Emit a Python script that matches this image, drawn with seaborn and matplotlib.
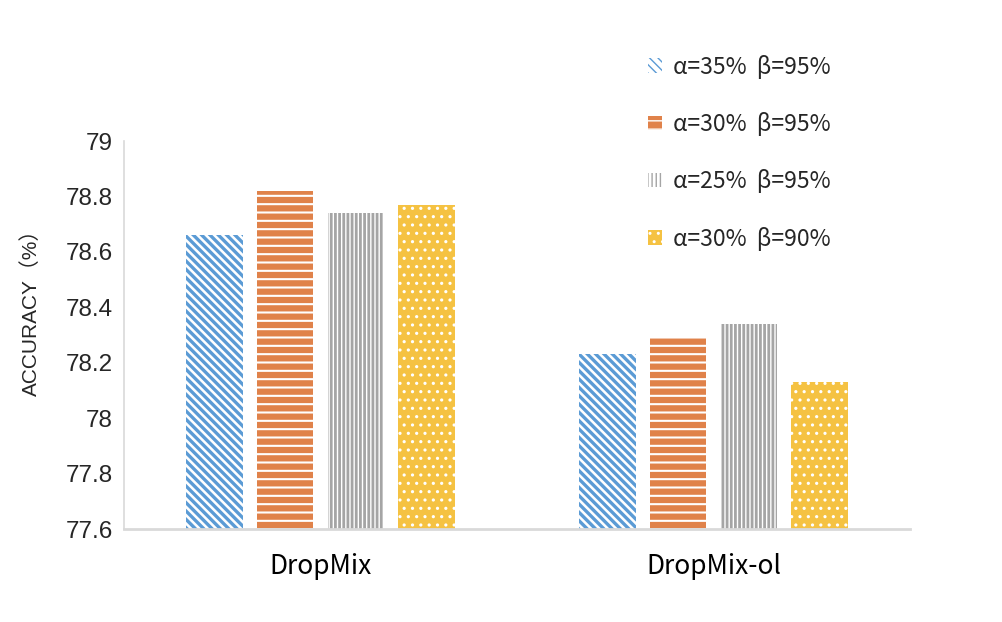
import pandas as pd
import matplotlib
matplotlib.use('Agg')
import matplotlib.pyplot as plt
from matplotlib.patches import Patch
from matplotlib.ticker import FixedLocator
import seaborn as sns

# data
methods = ['DropMix', 'DropMix-ol']
settings = ['α=35%  β=95%', 'α=30%  β=95%', 'α=25%  β=95%', 'α=30%  β=90%']
acc_dropmix = [78.66, 78.82, 78.74, 78.77]
acc_dropmix_ol = [78.23, 78.29, 78.34, 78.13]
y_ticks = [77.6, 77.8, 78.0, 78.2, 78.4, 78.6, 78.8, 79.0]

colors = ['#5B9BD5', '#E0824A', '#A5A5A5', '#F5C242']
# (face, hatch colour, hatch, hatch lw)
styles = [
    ('white', colors[0], '\\\\\\\\', 2.4),
    (colors[1], 'white', '--', 1.5),
    ('white', colors[2], '||||', 2.0),
    (colors[3], 'white', '..', 1.1),
]

rows = []
for m, vals in zip(methods, [acc_dropmix, acc_dropmix_ol]):
    for s, v in zip(settings, vals):
        rows.append({'method': m, 'setting': s, 'acc': v})
df = pd.DataFrame(rows)

sns.set_style('white')
plt.rcParams['font.family'] = ['Liberation Sans', 'Noto Sans CJK SC', 'DejaVu Sans']
gray = '#D9D9D9'

fig = plt.figure(figsize=(10.02, 6.22), dpi=100)
ax = fig.add_axes([0.1238, 0.1495, 0.7844, 0.6238])

sns.barplot(data=df, x='method', y='acc', hue='setting', hue_order=settings,
            order=methods, width=0.72, gap=0.2, ax=ax, legend=False)

for cont, (fc, hc, h, hlw) in zip(ax.containers, styles):
    for bar in cont:
        bar.set_facecolor(fc)
        bar.set_edgecolor(hc)
        bar.set_linewidth(0)
        bar.set_hatch(h)
        if hasattr(bar, 'set_hatch_linewidth'):
            bar.set_hatch_linewidth(hlw)

ax.set_ylim(77.6, 79.0)
ax.set_xlim(-0.5, 1.5)
ax.set_yticks(y_ticks)
ax.set_yticklabels(['%g' % t for t in y_ticks], fontsize=17.5)
ax.set_xticks(range(len(methods)))
ax.set_xticklabels(methods, fontsize=19, family=['Noto Sans CJK SC', 'DejaVu Sans'])
ax.xaxis.set_minor_locator(FixedLocator([-0.5, 0.5, 1.5]))
ax.tick_params(axis='x', which='major', length=0, pad=17, colors='black')
ax.tick_params(axis='x', which='minor', length=5, width=2, direction='in', color=gray)
ax.tick_params(axis='y', which='major', length=5, width=1.2, direction='in', color=gray, pad=8)
ax.set_xlabel('')
ax.set_ylabel('ACCURACY（%）', fontsize=15)
ax.yaxis.set_label_coords(-0.106, 0.57)

for side in ['top', 'right']:
    ax.spines[side].set_visible(False)
ax.spines['left'].set_color(gray)
ax.spines['left'].set_linewidth(1.2)
ax.spines['bottom'].set_color(gray)
ax.spines['bottom'].set_linewidth(2)

handles = []
for s, (fc, hc, h, hlw) in zip(settings, styles):
    p = Patch(facecolor=fc, edgecolor=hc, hatch=h, linewidth=0, label=s)
    if hasattr(p, 'set_hatch_linewidth'):
        p.set_hatch_linewidth(hlw)
    handles.append(p)
fig.legend(handles=handles, loc='upper left', bbox_to_anchor=(0.626, 0.945),
           frameon=False, labelspacing=1.45, handlelength=0.6,
           handleheight=0.6, handletextpad=0.5,
           prop={'family': ['Noto Sans CJK SC', 'DejaVu Sans'], 'size': 16.5})

fig.savefig('out.png', dpi=100)
